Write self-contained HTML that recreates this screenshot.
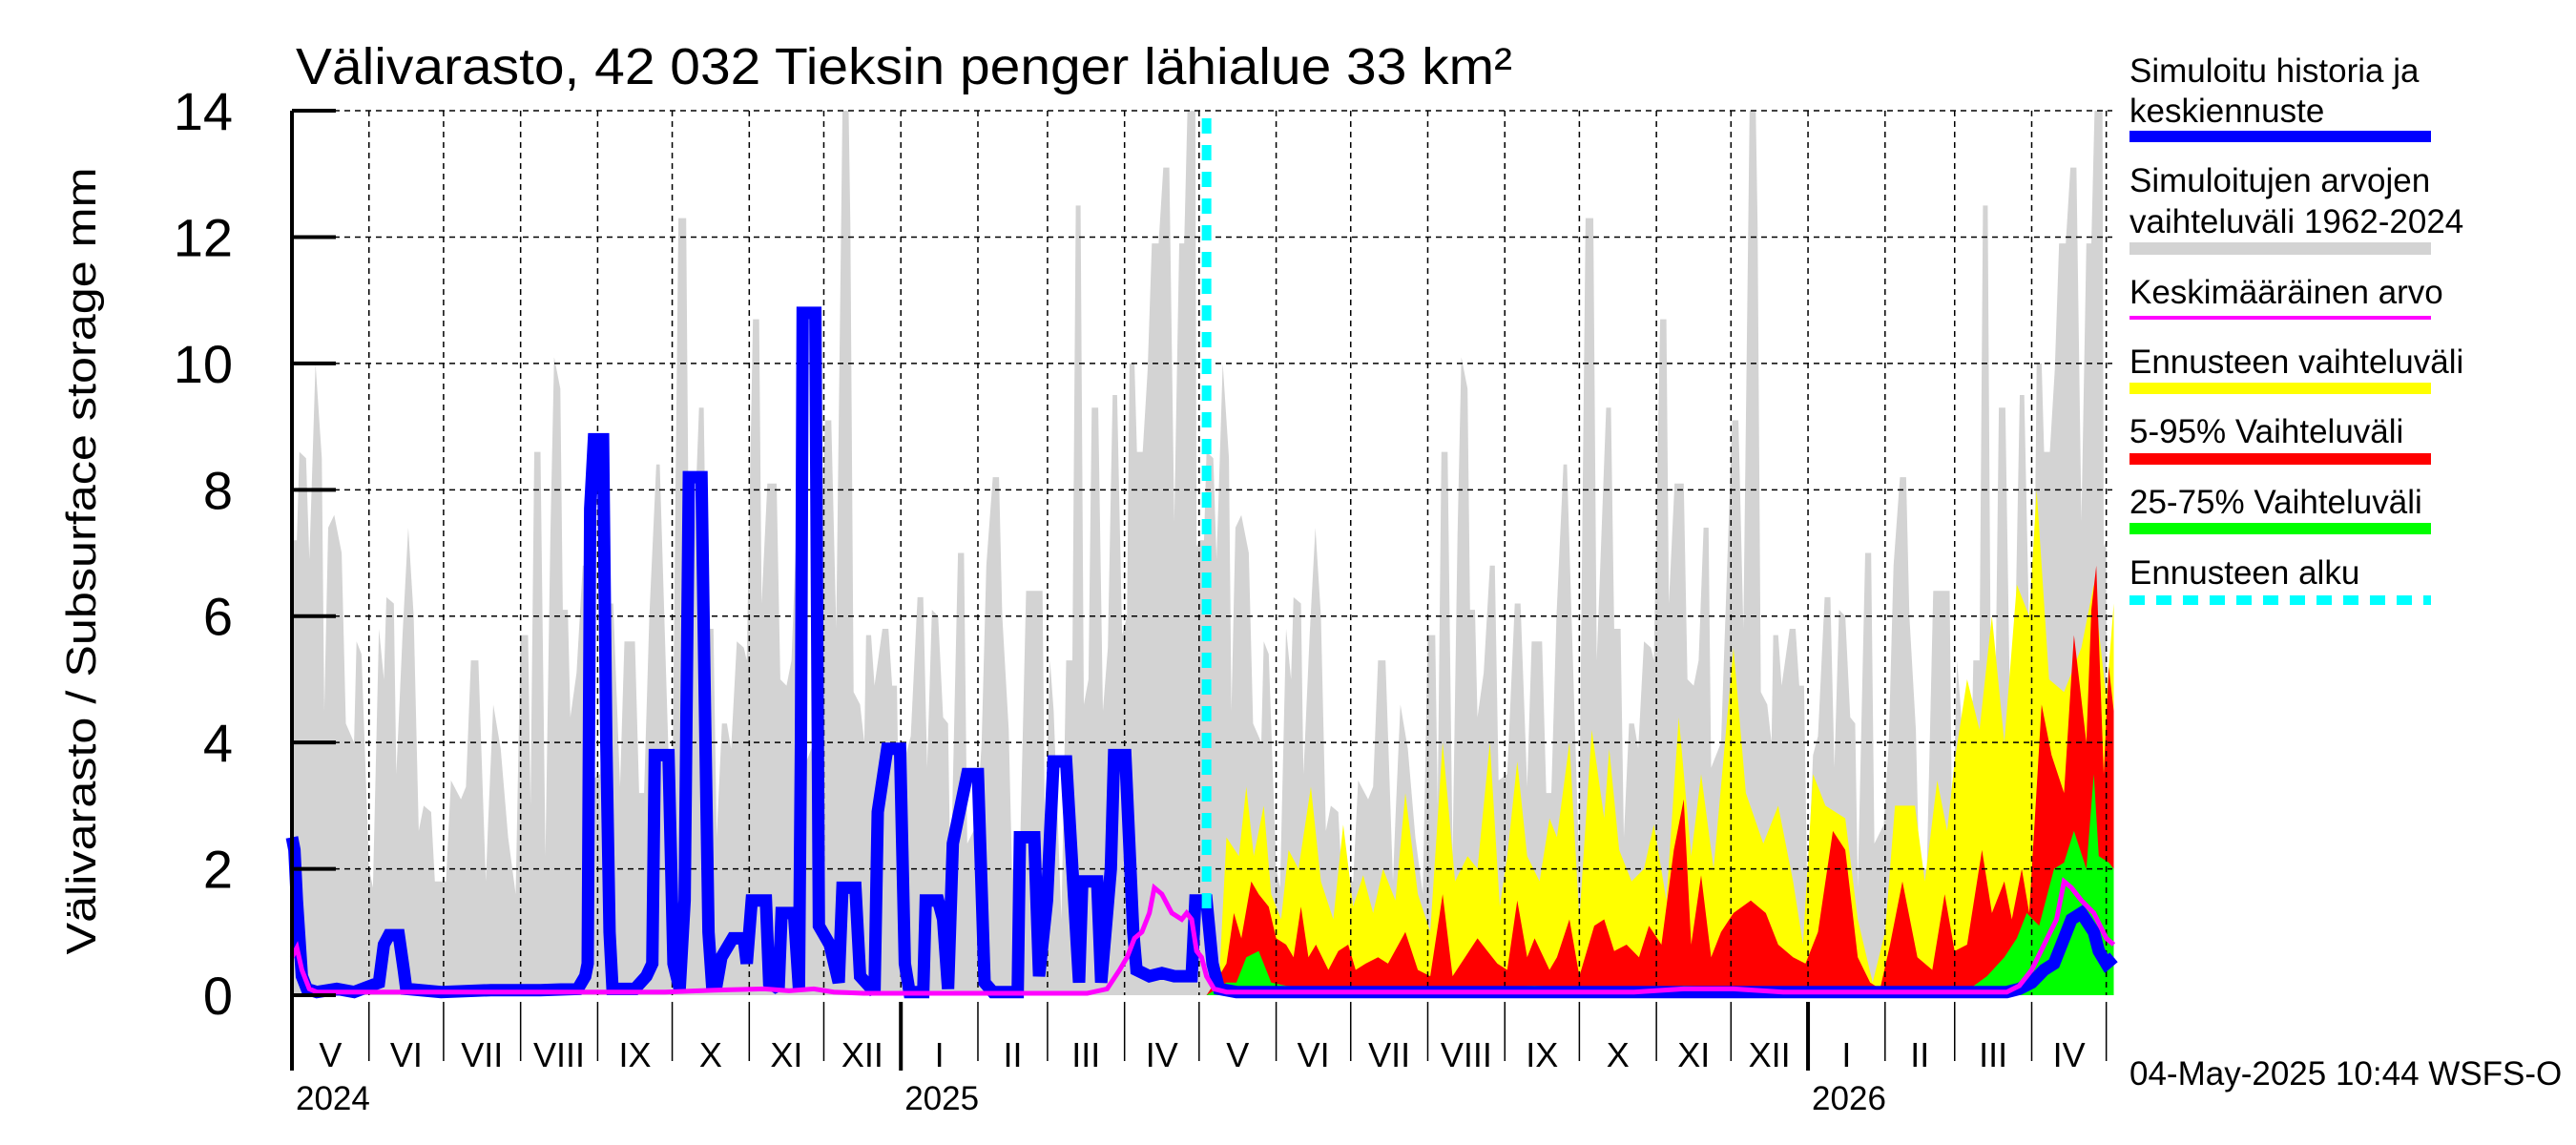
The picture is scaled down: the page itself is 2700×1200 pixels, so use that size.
<!DOCTYPE html>
<html><head><meta charset="utf-8"><style>
html,body{margin:0;padding:0;background:#fff;}
svg{display:block;font-family:"Liberation Sans",sans-serif;}
</style></head>
<body>
<svg id="chart" width="2700" height="1200" viewBox="0 0 2700 1200" xmlns="http://www.w3.org/2000/svg">
<text x="310" y="88" font-size="54" textLength="1275" lengthAdjust="spacingAndGlyphs">Välivarasto, 42 032 Tieksin penger lähialue 33 km²</text>
<text transform="translate(100,588) rotate(-90)" text-anchor="middle" font-size="44" textLength="825" lengthAdjust="spacingAndGlyphs">Välivarasto / Subsurface storage  mm</text>
<g id="fills"></g><g id="grid"></g><g id="lines"></g><g id="axes"></g>
<g id="legend" font-size="35">
<text x="2232" y="86">Simuloitu historia ja</text>
<text x="2232" y="128">keskiennuste</text>
<rect x="2232" y="137" width="316" height="12" fill="#0000ff"/>
<text x="2232" y="201">Simuloitujen arvojen</text>
<text x="2232" y="244">vaihteluväli 1962-2024</text>
<rect x="2232" y="254" width="316" height="13" fill="#d3d3d3"/>
<text x="2232" y="318">Keskimääräinen arvo</text>
<rect x="2232" y="331" width="316" height="4" fill="#ff00ff"/>
<text x="2232" y="391">Ennusteen vaihteluväli</text>
<rect x="2232" y="401" width="316" height="12" fill="#ffff00"/>
<text x="2232" y="464">5-95% Vaihteluväli</text>
<rect x="2232" y="475" width="316" height="12" fill="#ff0000"/>
<text x="2232" y="538">25-75% Vaihteluväli</text>
<rect x="2232" y="548" width="316" height="12" fill="#00ff00"/>
<text x="2232" y="612">Ennusteen alku</text>
<line x1="2232" y1="629" x2="2548" y2="629" stroke="#00ffff" stroke-width="10" stroke-dasharray="16,12"/>
</g>
<text x="2232" y="1137" font-size="35">04-May-2025 10:44 WSFS-O</text>
</svg>
<script>
const yTicks=[0,2,4,6,8,10,12,14];
const monthStarts=[0,31,61,92,123,153,184,214,245,276,304,335,365,396,426,457,488,518,549,579,610,641,669,700,730];
const monthLabels=["V","VI","VII","VIII","IX","X","XI","XII","I","II","III","IV","V","VI","VII","VIII","IX","X","XI","XII","I","II","III","IV"];
const yearLabels=["2024","2025","2026"];
const yearDays=[0,245,610];
const forecastStartDay=368;
// seasonal historical max (one year, repeated)
const greyDays=[0,2,3,5.7,7,8,9.5,12,13,14.6,17,20,21.7,25,26,28,31,32.6,35,37,38,41,42,44.5,46.8,49,51,53,56,57.5,62,64,68,70,72,75,78,79,81,84,87,90,92,95,96,97.5,100,102,104,105.5,108,109,111,112,114.5,117,119,120.5,124,127,129.3,132,133.8,138,139.7,141.7,143.8,146.6,148,150.3,152.8,155.5,158.6,160,163.8,165.7,167,169.6,170.9,173,175,176.7,179,181.8,183,185.5,188,189,191.3,195,196.5,199,201,203,205,206,210,214.5,217,219,221,221.5,224,224.7,226,228.6,230.3,231,233,234.4,237.6,240,241.5,243.4,244.7,247,249,251.7,254,255.6,257.5,260,262,264,265,268,270.4,271.7,275.5,277.5,279.4,282,284.5,285.8,288.4,289.7,292.8,295.4,302,303,305,306.5,309.6,311.5,314,315.4,317.3,318.6,320.5,321.8,324.4,326.3,328.3,330.2,332,334,336,337,339,340,342.3,344.3,346,348.7,350.6,353,355,357,359,360.3,363.5,364,365];
const greyMax=[7.2,7.2,8.6,8.5,6.9,8.1,10.0,8.5,4.5,7.4,7.6,7.0,4.3,4.0,5.6,5.4,2.0,1.7,5.8,5.0,6.3,6.2,3.5,5.7,7.4,6.0,2.6,3.0,2.9,1.8,1.8,3.4,3.1,3.3,5.3,5.3,1.8,2.8,4.6,3.9,2.5,1.6,5.7,5.7,3.0,8.6,8.6,2.2,7.3,10.1,9.6,6.1,6.1,4.4,5.1,6.8,6.8,3.4,3.5,6.2,6.2,3.3,5.6,5.6,3.2,3.2,6.0,8.4,8.4,5.4,2.2,12.3,12.3,5.3,9.3,9.3,5.8,5.8,2.5,4.3,4.3,3.9,5.6,5.5,5.3,10.7,10.7,6.2,8.1,8.1,5.0,4.9,5.3,7.4,7.4,3.6,4.0,9.1,9.1,5.8,12.3,14,14,12.2,4.8,4.6,4.0,5.7,5.7,4.9,5.8,5.8,4.9,4.9,1.5,3.8,4.1,6.3,6.3,3.6,6.1,6.0,4.4,4.3,1.7,7.0,7.0,2.4,2.7,4.0,6.8,8.2,8.2,6.0,4.2,2.0,2.0,6.4,6.4,2.4,5.3,4.5,1.2,5.3,5.3,12.5,12.5,4.6,5.0,9.3,9.3,4.5,5.5,9.5,9.5,5.7,6.0,10.0,10.0,8.6,8.6,9.9,11.9,11.9,13.1,13.1,7.5,11.9,11.9,14,14,7.1,7.2];
const yellowDays=[368,373,376,381,384,387,391,394,398,401,405,410,414,419,423,427,431,435,439,444,448,453,458,463,468,473,477,482,486,489,493,497,502,506,509,514,518,523,528,530,534,539,544,548,553,558,563,567,572,580,585,592,598,604,608,612,617,625,630,636,641,645,653,657,662,666,669,674,679,684,689,694,699,702,707,713,720,725,730,733];
const yellowMax=[0,0.2,2.5,2.2,3.3,2.2,3.0,1.6,1.2,2.3,2.0,3.3,1.8,1.2,2.7,1.4,1.9,1.3,2.0,1.5,3.2,1.6,1.0,4.0,1.8,2.2,2.0,4.0,1.4,2.2,3.7,2.2,1.8,2.8,2.5,4.0,1.2,4.2,2.8,3.9,2.3,1.8,2.0,2.7,1.5,4.4,2.2,3.5,2.0,5.5,3.2,2.4,3.0,1.8,0.8,3.5,3.0,2.8,1.2,0.2,1.0,3.0,3.0,1.8,3.4,2.6,3.7,5.0,4.2,6.0,4.0,6.5,6.0,8.0,5.0,4.8,5.5,6.5,4.7,6.2];
const redDays=[368,373,376,379,382,386,389,393,396,400,403,406,409,412,417,421,425,428,432,437,441,448,453,458,463,467,472,477,481,485,489,493,497,500,506,509,514,518,524,528,532,537,542,546,551,556,560,563,567,571,575,580,587,593,598,604,609,614,620,625,630,635,639,643,648,654,660,665,669,674,680,684,689,692,696,699,704,708,713,717,722,724,726,729,731,733];
const redMax=[0,0.3,0.5,1.3,0.9,1.8,1.6,1.4,0.9,0.8,0.6,1.4,0.6,0.8,0.4,0.7,0.8,0.4,0.5,0.6,0.5,1.0,0.4,0.3,1.6,0.3,0.6,0.9,0.7,0.5,0.4,1.5,0.6,0.9,0.4,0.6,1.2,0.3,1.1,1.2,0.7,0.8,0.6,1.1,0.8,2.3,3.1,0.8,1.9,0.6,1.0,1.3,1.5,1.3,0.8,0.6,0.5,1.0,2.6,2.3,0.6,0.2,0.1,0.8,1.8,0.6,0.4,1.6,0.7,0.8,2.3,1.3,1.8,1.2,2.0,1.3,4.6,3.8,3.2,5.7,4.0,6.1,6.8,3.5,5.2,4.5];
const greenDays=[368,376,380,384,389,394,400,420,460,500,530,560,600,640,660,675,682,689,694,698,703,709,713,717,722,725,727,731,733];
const greenMax=[0,0.2,0.2,0.6,0.7,0.2,0.15,0.1,0.1,0.15,0.1,0.15,0.1,0.05,0.05,0.1,0.3,0.6,0.9,1.3,1.1,2.0,2.1,2.6,2.0,3.5,2.2,2.1,2.0];
const blueDays=[0,1,2,4,6,10,18,25,35,37,39,43,45,46,60,80,100,115,118,119,120,121.5,125.2,126.5,127.8,129,138,142.6,145,146,151.5,153.5,156,158,159.7,164.8,166,167.6,169,171,172.8,177.3,181.8,183,185,190.7,192,195.8,197,202,204,204.8,205.5,210.6,212,216.4,220,221.5,226.7,228.6,234.4,235.7,239.5,244.7,246.6,248.5,254,255,260,262,264,265.9,271.7,276,278.7,282,292,292.9,298.7,300.6,303.8,306.4,311.5,314,316.7,318,324,325.6,329.5,330.8,335.3,338.5,339.8,345,350,355,362,363.5,368,370.4,373,380,690,695,700,705,709,713,716,720,725,727,730,733];
const blueVals=[2.5,2.3,1.5,0.3,0.1,0.05,0.1,0.05,0.2,0.8,0.95,0.95,0.4,0.1,0.05,0.08,0.08,0.1,0.3,0.5,7.7,8.8,8.8,4.0,1.0,0.1,0.1,0.3,0.5,3.8,3.8,0.5,0.1,1.5,8.2,8.2,5.0,1.0,0.2,0.2,0.6,0.9,0.9,0.5,1.5,1.5,0.2,0.1,1.3,1.3,0.1,4.0,10.8,10.8,1.1,0.8,0.2,1.7,1.7,0.3,0.05,2.9,3.9,3.9,0.5,0.05,0.05,1.5,1.5,1.2,0.1,2.4,3.5,3.5,0.2,0.05,0.05,2.5,2.5,0.3,1.5,3.7,3.7,2.0,0.2,1.8,1.8,0.2,2.0,3.8,3.8,1.0,0.4,0.3,0.35,0.3,0.3,1.5,1.5,0.5,0.1,0.05,0.05,0.1,0.2,0.4,0.5,0.9,1.2,1.3,1.0,0.7,0.5,0.6];
const meanDays=[0,2,4,7,10,150,170,190,200,210,218,230,320,328,333,336,339,342,345,347,350,354,358,360,362,364,366,368,371,376,540,560,580,600,690,695,700,705,710,713,716,720,725,730,733];
const meanVals=[0.6,0.75,0.4,0.1,0.05,0.05,0.08,0.1,0.07,0.1,0.05,0.03,0.03,0.1,0.4,0.6,0.9,1.0,1.3,1.7,1.6,1.3,1.2,1.3,1.2,0.7,0.6,0.3,0.1,0.05,0.05,0.1,0.1,0.05,0.05,0.15,0.4,0.8,1.2,1.8,1.7,1.5,1.3,0.9,0.8];

const X0=306, PXD=2.605, Y0=1043, PXV=66.21, YTOP=116, XEND=2214;
const NS="http://www.w3.org/2000/svg";
function xs(d){return X0+d*PXD;}
function ys(v){return Y0-v*PXV;}
function mk(tag,attrs,parent){const e=document.createElementNS(NS,tag);for(const k in attrs)e.setAttribute(k,attrs[k]);parent.appendChild(e);return e;}
function area(days,vals){let p="M"+xs(days[0]).toFixed(1)+","+ys(0);for(let i=0;i<days.length;i++){if(days[i]>733.5)break;p+="L"+xs(days[i]).toFixed(1)+","+ys(vals[i]).toFixed(1);}let last=Math.min(days[days.length-1],733.5);p+="L"+xs(last).toFixed(1)+","+ys(0)+"Z";return p;}
function line(days,vals){let p="";for(let i=0;i<days.length;i++){p+=(i?"L":"M")+xs(days[i]).toFixed(1)+","+ys(vals[i]).toFixed(1);}return p;}
const fills=document.getElementById("fills"),grid=document.getElementById("grid"),lines=document.getElementById("lines"),axes=document.getElementById("axes");
let gd=[],gv=[];
for(const off of [0,365]){for(let i=0;i<greyDays.length;i++){const d=greyDays[i]+off;if(d<=733.5){gd.push(d);gv.push(greyMax[i]);}}}
let g=mk("path",{d:area(gd,gv),fill:"#d3d3d3"},fills);


let yl=mk("path",{d:area(yellowDays,yellowMax),fill:"#ffff00"},fills);


let rd=mk("path",{d:area(redDays,redMax),fill:"#ff0000"},fills);


let gr=mk("path",{d:area(greenDays,greenMax),fill:"#00ff00"},fills);


for(const t of yTicks){if(t===0)continue;let l=mk("line",{x1:X0,x2:XEND,y1:ys(t),y2:ys(t),stroke:"#000","stroke-width":1.5,"stroke-dasharray":"6,5"},grid);

}
for(let i=1;i<monthStarts.length;i++){let l=mk("line",{x1:xs(monthStarts[i]),x2:xs(monthStarts[i]),y1:YTOP,y2:Y0,stroke:"#000","stroke-width":1.5,"stroke-dasharray":"6,5"},grid);

}
let bl=mk("path",{d:line(blueDays,blueVals),fill:"none",stroke:"#0000ff","stroke-width":13,"stroke-linejoin":"miter","stroke-miterlimit":2},lines);


let mg=mk("path",{d:line(meanDays,meanVals),fill:"none",stroke:"#ff00ff","stroke-width":5},lines);


let cy=mk("line",{x1:xs(forecastStartDay),x2:xs(forecastStartDay),y1:YTOP+8,y2:Y0-80,stroke:"#00ffff","stroke-width":10,"stroke-dasharray":"16,12"},lines);


let ax=mk("line",{x1:X0,x2:X0,y1:YTOP,y2:1112,stroke:"#000","stroke-width":4},axes);


for(const t of yTicks){let tk=mk("line",{x1:X0,x2:X0+46,y1:ys(t),y2:ys(t),stroke:"#000","stroke-width":4},axes);


let tl=mk("text",{x:244,y:ys(t)+20,"text-anchor":"end","font-size":56},axes);tl.textContent=t;

}
for(let i=0;i<monthStarts.length;i++){const isYear=yearDays.includes(monthStarts[i]);let m=mk("line",{x1:xs(monthStarts[i]),x2:xs(monthStarts[i]),y1:1050,y2:isYear?1122:1112,stroke:"#000","stroke-width":isYear?4:1.5},axes);

}
for(let i=0;i<monthLabels.length;i++){const mid=(monthStarts[i]+monthStarts[i+1])/2;let t=mk("text",{x:xs(mid),y:1118,"text-anchor":"middle","font-size":36},axes);t.textContent=monthLabels[i];

}
for(let i=0;i<yearLabels.length;i++){let t=mk("text",{x:xs(yearDays[i])+4,y:1163,"font-size":35},axes);t.textContent=yearLabels[i];

}
</script>
</body></html>
